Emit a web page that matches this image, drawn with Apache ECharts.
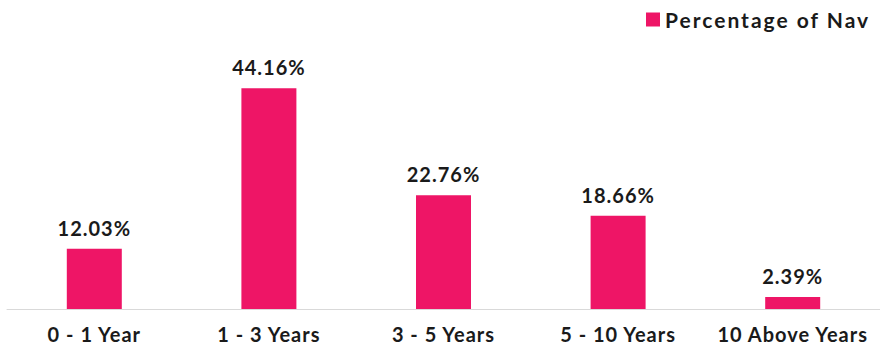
<!DOCTYPE html>
<html lang="en">
<head>
    <meta charset="UTF-8">
    <title>Percentage of Nav</title>
    <script src="https://cdn.jsdelivr.net/npm/echarts@6/dist/echarts.min.js"></script>
    <style>
        body { margin: 0; padding: 0; background: #fff; }
        /* the source chart draws its text slightly letter-spaced */
        #chart text { letter-spacing: 1px; }
        #chart text[style*="21px"] { letter-spacing: 2px; }
    </style>
</head>
<body>
    <div id="chart" style="width: 880px; height: 351px;"></div>
    <script>
        var categories = ["0 - 1 Year", "1 - 3 Years", "3 - 5 Years", "5 - 10 Years", "10 Above Years"];
        var navValues = [12.03, 44.16, 22.76, 18.66, 2.39];

        var chart = echarts.init(document.getElementById("chart"), null, { renderer: "svg" });
        var option = {
            animation: false,
            textStyle: { fontFamily: "Lato" },
            legend: {
                left: 641,
                top: 4,
                itemWidth: 14,
                itemHeight: 14,
                itemGap: 8,
                icon: "rect",
                textStyle: { fontSize: 21, fontWeight: "bold", color: "#1a1a1a", fontFamily: "Lato" },
                data: ["Percentage of Nav"]
            },
            grid: { left: 7, right: 0, top: 59, bottom: 42 },
            xAxis: {
                type: "category",
                data: categories,
                axisLine: { lineStyle: { color: "#d9d9d9", width: 1 } },
                axisTick: { show: false },
                axisLabel: { interval: 0, margin: 15, fontSize: 20, fontWeight: "bold", color: "#1a1a1a", fontFamily: "Lato" }
            },
            yAxis: {
                type: "value",
                min: 0,
                max: 50,
                show: false
            },
            series: [{
                name: "Percentage of Nav",
                type: "bar",
                data: navValues,
                barWidth: 55,
                itemStyle: { color: "#ee1566" },
                label: {
                    show: true,
                    position: "top",
                    distance: 11,
                    formatter: function (p) { return p.value.toFixed(2) + "%"; },
                    fontSize: 20,
                    fontWeight: "bold",
                    color: "#1a1a1a",
                    fontFamily: "Lato"
                }
            }]
        };
        chart.setOption(option);
    </script>
</body>
</html>
